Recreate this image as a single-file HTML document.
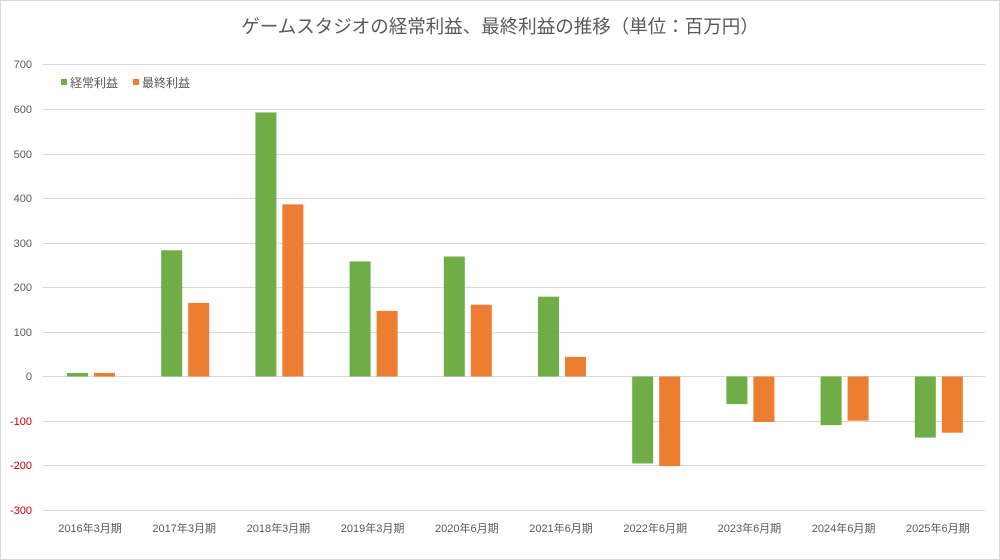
<!DOCTYPE html>
<html><head><meta charset="utf-8"><style>
body{margin:0;background:#fff}
svg{display:block;font-family:"Liberation Sans","Noto Sans CJK JP",sans-serif}
</style></head><body>
<svg width="1000" height="560" xmlns="http://www.w3.org/2000/svg">
<rect x="0.5" y="0.5" width="999" height="559" fill="#fff" stroke="#d9d9d9"/>
<text x="500" y="33" text-anchor="middle" font-size="18.5" fill="#595959">ゲームスタジオの経常利益、最終利益の推移（単位：百万円）</text>
<g stroke="#d9d9d9" stroke-width="1">
<line x1="43" x2="985" y1="64.5" y2="64.5"/>
<line x1="43" x2="985" y1="109.5" y2="109.5"/>
<line x1="43" x2="985" y1="154.5" y2="154.5"/>
<line x1="43" x2="985" y1="198.5" y2="198.5"/>
<line x1="43" x2="985" y1="243.5" y2="243.5"/>
<line x1="43" x2="985" y1="287.5" y2="287.5"/>
<line x1="43" x2="985" y1="332.5" y2="332.5"/>
<line x1="43" x2="985" y1="376.5" y2="376.5"/>
<line x1="43" x2="985" y1="421.5" y2="421.5"/>
<line x1="43" x2="985" y1="465.5" y2="465.5"/>
<line x1="43" x2="985" y1="510.5" y2="510.5"/>
</g>
<g font-size="11" fill="#595959" text-anchor="end">
<text x="32" y="68">700</text><text x="32" y="113">600</text><text x="32" y="158">500</text>
<text x="32" y="202">400</text><text x="32" y="247">300</text><text x="32" y="291">200</text>
<text x="32" y="336">100</text><text x="32" y="380">0</text>
<text x="32" y="425" fill="#c00000">-100</text><text x="32" y="469" fill="#c00000">-200</text><text x="32" y="514" fill="#c00000">-300</text>
</g>
<g id="bars"></g>
<g font-size="11" fill="#595959" text-anchor="middle" id="labels"></g>
<rect x="61" y="79" width="6" height="6" fill="#70ad47"/>
<text x="70" y="87" font-size="12" fill="#595959">経常利益</text>
<rect x="133" y="79" width="6" height="6" fill="#ed7d31"/>
<text x="142" y="87" font-size="12" fill="#595959">最終利益</text>
<script>
var g=[8,283,592,258,269,179,-195,-62,-109,-137],o=[8,165,386,147,161,44,-201,-102,-99,-126];
var L=["2016年3月期","2017年3月期","2018年3月期","2019年3月期","2020年6月期","2021年6月期","2022年6月期","2023年6月期","2024年6月期","2025年6月期"];
var ns="http://www.w3.org/2000/svg",B=document.getElementById("bars"),T=document.getElementById("labels");
function r(x,v,c){var e=document.createElementNS(ns,"rect");var h=Math.abs(v)*0.446;e.setAttribute("x",x);e.setAttribute("width",21);e.setAttribute("y",v>=0?376.5-h:376.5);e.setAttribute("height",h);e.setAttribute("fill",c);B.appendChild(e);}
for(var i=0;i<10;i++){var x0=43+i*94.2;r(x0+24,g[i],"#70ad47");r(x0+51,o[i],"#ed7d31");
var t=document.createElementNS(ns,"text");t.setAttribute("x",x0+47);t.setAttribute("y",532);t.textContent=L[i];T.appendChild(t);}
</script>
</svg>
</body></html>
